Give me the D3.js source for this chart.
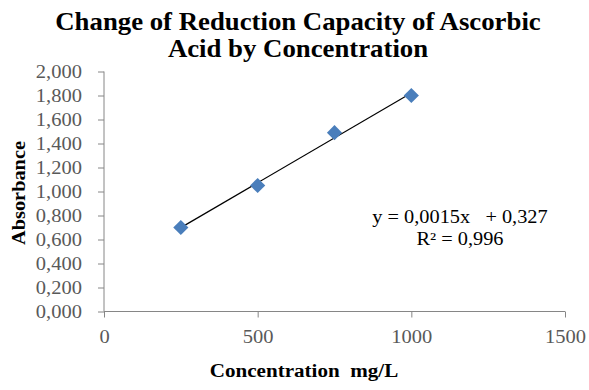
<!DOCTYPE html>
<html>
<head>
<meta charset="utf-8">
<script src="https://cdn.jsdelivr.net/npm/d3@7"></script>
<style>
  body { margin: 0; background: #fff; }
  text { font-family: "Liberation Serif", "Times New Roman", serif; }
  .tick-label { fill: #595959; font-size: 19px; }
  .axis-title { font-weight: bold; font-size: 19px; fill: #000; }
</style>
</head>
<body>
<div id="viz"></div>
<script>
// data
var concentrations = [250, 500, 750, 1000];
var absorbance = [0.70, 1.05, 1.49, 1.80];
var xTicks = [0, 500, 1000, 1500];
var yTicks = [0, 0.2, 0.4, 0.6, 0.8, 1.0, 1.2, 1.4, 1.6, 1.8, 2.0];
var titleLines = ["Change of Reduction Capacity of Ascorbic", "Acid by Concentration"];
var eqLines = ["y = 0,0015x   + 0,327", "R\u00b2 = 0,996"];

var width = 589, height = 390;
var svg = d3.select("#viz").append("svg").attr("width", width).attr("height", height);

var x = d3.scaleLinear().domain([0, 1500]).range([104, 565]);
var y = d3.scaleLinear().domain([0, 2]).range([311.5, 71.5]);

var loc = d3.formatLocale({ decimal: ",", thousands: ".", grouping: [3], currency: ["", ""] });
var fmtY = loc.format(".3f");

// the reference text is a bit wider than the font, so stretch it sideways
function wide(s) { return "scale(" + s + ",1)"; }

// title
svg.append("text")
    .attr("transform", "translate(298,0) " + wide(1.03))
    .attr("text-anchor", "middle")
    .style("font-weight", "bold")
    .style("font-size", "26px")
  .selectAll("tspan")
  .data(titleLines)
  .enter().append("tspan")
    .attr("x", 0)
    .attr("y", function(d, i) { return 30 + i * 27; })
    .text(function(d) { return d; });

// axes
var axisColor = "#868686";
var tickStretch = 1.08;
var yAxis = svg.append("g").attr("transform", "translate(" + x(0) + ",0)")
    .call(d3.axisLeft(y).tickValues(yTicks).tickSize(6).tickPadding(16).tickFormat(fmtY));
var xAxis = svg.append("g").attr("transform", "translate(0," + y(0) + ")")
    .call(d3.axisBottom(x).tickValues(xTicks).tickSize(6).tickPadding(12).tickFormat(d3.format("d")));

[xAxis, yAxis].forEach(function(g) {
  g.select(".domain").attr("stroke", axisColor);
  g.selectAll(".tick line").attr("stroke", axisColor);
  g.selectAll(".tick text")
      .attr("class", "tick-label")
      .attr("transform", wide(tickStretch));
  g.attr("font-family", null).attr("font-size", null);
});
yAxis.selectAll(".tick text").attr("x", -22 / tickStretch);
xAxis.select(".domain").attr("d", "M" + x(0) + ",0H" + x(1500));
yAxis.select(".domain").attr("d", "M0," + y(0) + "V" + y(2));

// axis titles
svg.append("text")
    .attr("class", "axis-title")
    .attr("transform", "translate(304,377) " + wide(1.11))
    .attr("text-anchor", "middle")
    .attr("xml:space", "preserve")
    .text("Concentration  mg/L");

svg.append("text")
    .attr("class", "axis-title")
    .attr("transform", "translate(25,193) rotate(-90) " + wide(1.07))
    .attr("text-anchor", "middle")
    .text("Absorbance");

// linear trendline from the points
var mx = d3.mean(concentrations), my = d3.mean(absorbance);
var sxy = d3.sum(concentrations, function(c, i) { return (c - mx) * (absorbance[i] - my); });
var sxx = d3.sum(concentrations, function(c) { return (c - mx) * (c - mx); });
var slope = sxy / sxx, intercept = my - slope * mx;
var ext = d3.extent(concentrations);

svg.append("line")
    .attr("x1", x(ext[0])).attr("y1", y(intercept + slope * ext[0]))
    .attr("x2", x(ext[1])).attr("y2", y(intercept + slope * ext[1]))
    .attr("stroke", "#000")
    .attr("stroke-width", 1.2);

// markers
var diamond = d3.symbol().type(d3.symbolSquare).size(115);
svg.selectAll(".pt")
    .data(concentrations)
  .enter().append("path")
    .attr("class", "pt")
    .attr("d", diamond)
    .attr("transform", function(d, i) { return "translate(" + x(d) + "," + y(absorbance[i]) + ") rotate(45)"; })
    .attr("fill", "#4a7ebb");

// equation label
svg.append("text")
    .attr("transform", "translate(460,0) " + wide(1.13))
    .attr("text-anchor", "middle")
    .attr("xml:space", "preserve")
    .style("font-size", "18px")
  .selectAll("tspan")
  .data(eqLines)
  .enter().append("tspan")
    .attr("x", 0)
    .attr("y", function(d, i) { return 223 + i * 22; })
    .text(function(d) { return d; });
</script>
</body>
</html>
